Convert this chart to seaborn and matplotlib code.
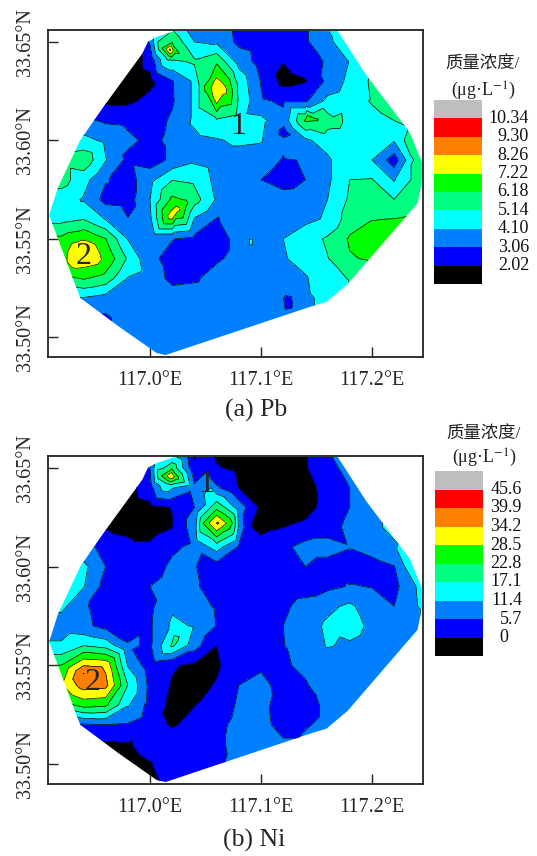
import matplotlib
matplotlib.use("Agg")
import matplotlib.pyplot as plt
import matplotlib.tri as mtri
from matplotlib.colors import ListedColormap
from matplotlib.patches import Polygon
import numpy as np
import seaborn as sns

lon_nodes = [116.90, 116.92, 116.94, 116.96, 116.98, 117.00, 117.02, 117.04, 117.06, 117.08,
             117.10, 117.12, 117.14, 117.16, 117.18, 117.20, 117.22, 117.24, 117.26]
lat_nodes = [33.66, 33.65, 33.64, 33.63, 33.62, 33.61, 33.60, 33.59, 33.58,
             33.57, 33.56, 33.55, 33.54, 33.53, 33.52, 33.51, 33.50, 33.49]

# concentration, one row per latitude
pb_grid = [
    [2.0, 2.0, 2.0, 2.0, 2.0, 3.6, 4.6, 3.0, 2.8, 2.7, 2.6, 2.2, 2.8, 4.2, 4.8, 4.8, 4.8, 4.8, 4.8],
    [1.5, 1.5, 1.5, 1.5, 1.5, 3.2, 6.0, 4.1, 3.9, 2.8, 2.5, 2.4, 2.9, 3.9, 4.7, 4.8, 5.0, 5.0, 5.0],
    [1.5, 1.5, 1.5, 1.5, 1.5, 2.3, 4.9, 5.3, 6.0, 3.7, 2.6, 2.05, 2.5, 3.2, 4.15, 4.8, 5.0, 5.0, 5.0],
    [1.5, 1.5, 1.5, 1.5, 1.5, 1.75, 3.0, 4.3, 7.5, 4.8, 3.0, 1.7, 1.95, 3.3, 4.4, 5.3, 5.6, 5.6, 5.6],
    [1.8, 1.8, 1.8, 1.8, 1.8, 2.3, 2.95, 4.3, 7.6, 5.0, 3.2, 2.9, 2.9, 4.4, 4.8, 5.2, 5.5, 5.6, 5.6],
    [2.9, 2.9, 3.3, 2.9, 2.8, 2.6, 3.2, 4.3, 5.0, 4.6, 4.4, 3.4, 6.3, 5.6, 4.9, 4.9, 5.14, 5.6, 5.6],
    [4.4, 4.4, 4.4, 3.9, 3.3, 2.8, 3.3, 3.8, 4.0, 4.3, 4.2, 3.25, 3.9, 4.6, 4.6, 4.3, 4.2, 6.3, 7.0],
    [5.6, 5.6, 5.9, 4.15, 2.8, 2.5, 3.3, 3.9, 3.6, 3.6, 3.5, 3.0, 3.1, 3.9, 5.0, 4.1, 2.5, 5.5, 7.0],
    [5.6, 5.6, 4.5, 3.15, 2.6, 3.8, 5.1, 4.9, 3.8, 3.5, 3.06, 2.6, 3.06, 3.9, 5.14, 5.2, 4.0, 5.5, 7.0],
    [4.6, 4.6, 4.0, 2.7, 2.6, 4.1, 6.4, 5.6, 4.0, 3.6, 3.5, 3.5, 3.6, 4.1, 5.3, 5.3, 5.14, 5.6, 6.0],
    [4.8, 4.8, 5.1, 4.05, 3.1, 3.9, 7.2, 4.0, 3.0, 3.5, 3.6, 3.7, 3.9, 4.2, 5.7, 6.15, 6.2, 6.4, 6.5],
    [6.4, 6.4, 7.15, 6.2, 4.05, 3.1, 3.1, 2.8, 2.6, 3.4, 3.5, 4.1, 4.6, 5.3, 6.3, 6.6, 6.6, 6.6, 6.6],
    [7.0, 7.0, 8.0, 7.0, 5.0, 3.3, 2.7, 2.5, 2.9, 3.4, 3.5, 4.0, 4.5, 5.1, 6.1, 6.3, 6.4, 6.4, 6.4],
    [5.8, 5.8, 6.3, 5.8, 4.05, 3.6, 2.8, 2.9, 3.5, 3.6, 3.6, 3.8, 4.0, 4.8, 5.2, 6.0, 6.0, 6.0, 6.0],
    [4.05, 4.05, 4.05, 3.7, 3.6, 3.6, 3.5, 3.6, 3.7, 3.6, 3.5, 3.1, 3.9, 4.4, 5.0, 5.0, 5.0, 5.0, 5.0],
    [3.0, 3.0, 3.0, 2.9, 3.5, 3.6, 3.6, 3.6, 3.6, 3.6, 3.6, 3.6, 3.9, 4.4, 5.0, 5.0, 5.0, 5.0, 5.0],
    [3.6, 3.6, 3.6, 3.6, 3.6, 3.6, 3.6, 3.6, 3.6, 3.6, 3.6, 3.6, 3.7, 4.0, 4.0, 4.0, 4.0, 4.0, 4.0],
    [3.6, 3.6, 3.6, 3.6, 3.6, 3.6, 3.6, 3.6, 3.6, 3.6, 3.6, 3.6, 3.6, 3.6, 3.6, 3.6, 3.6, 3.6, 3.6],
]
ni_grid = [
    [-3, -3, -3, -3, -3, 3, 6.5, -1.5, -2, -2, -2, -2, -1, 5.7, 8, 8.5, 8.5, 8.5, 8.5],
    [-3, -3, -3, -3, -3, 5.8, 21, 1, 0.5, -1.5, -3, -3, -0.5, 4, 7.5, 8.5, 8.5, 8.5, 8.5],
    [-3, -3, -3, -3, -2, 3.5, 12, 7, 6.5, -0.2, -3, -3, -2, 2, 5.7, 8, 8.5, 8.5, 8.5],
    [-3, -3, -3, -3, -3, -1.5, 0.2, 5.7, 21, 9, -1.5, -3, -2.5, 2.5, 5.7, 10, 13, 14, 14],
    [-0.5, -0.5, -0.5, -0.5, -1, -2.5, -0.3, 9, 32, 10.5, -1.5, -0.1, 1.5, 3.5, 7, 10, 13, 15, 15],
    [7, 7, 7, 4.5, 1, 1, 4.5, 7, 14, 5, 2, 4.5, 7.5, 7.5, 6, 8, 10.5, 18, 20],
    [13, 13, 13, 5.7, 2.5, 2.5, 7, 6, 3, 3, 3.5, 5, 5.7, 4, 3, 3.5, 5.5, 18, 20],
    [12.5, 12.5, 11.8, 3.5, 2.5, 5.7, 8.5, 6.5, 3, 2.5, 2.5, 3.5, 4, 4.5, 6, 5.5, 4, 11.5, 20],
    [13, 13, 6.5, 3, 1.5, 4.5, 10.5, 8, 5, 2, 2.5, 5, 7, 10, 12.5, 8, 5.7, 11, 18],
    [8, 8, 7, 4, 1.5, 5, 12.5, 11, 5.5, 2, 2.5, 5.7, 8.5, 12.5, 14, 10, 8, 11, 13],
    [12.5, 12.5, 17.1, 15, 6.5, 5, 18, 8, 0, 2.5, 3.5, 5.5, 8, 11.8, 10.5, 8.5, 8.5, 9, 9],
    [23, 23, 34, 33, 11, 2.5, 0.5, -1, -1, 4.5, 5, 5.2, 6.5, 8, 8.5, 8.5, 8.5, 8.5, 8.5],
    [28, 28, 37, 36, 17, 4, -0.5, -2, 0.5, 5.7, 7, 4, 5.3, 8, 9, 9, 9, 9, 9],
    [20, 20, 25, 24, 12, 3.5, -1.5, -0.2, 2, 6.5, 7.5, 3, 3.5, 7, 8.5, 8.5, 8.5, 8.5, 8.5],
    [8, 8, 5, 5.7, 5.2, 2, -0.5, 1.5, 4, 7.5, 8, 3, 5.2, 7, 8, 8, 8, 8, 8],
    [2, 2, 1, -1, -0.5, 2, 2.5, 3, 4.5, 7.5, 8, 7, 7, 8, 8, 8, 8, 8, 8],
    [-2, -2, -2, -2, -2, -0.3, 2.5, 3, 5, 7, 8, 8, 8, 8, 8, 8, 8, 8, 8],
    [-2, -2, -2, -2, -2, -2, 2, 3, 5, 8, 8, 8, 8, 8, 8, 8, 8, 8, 8],
]

# extra readings at the small peaks and pockets the grid is too coarse for
pb_extra_lon = [117.018, 117.009, 117.023, 117.016, 117.025, 117.018, 117.031, 117.121, 117.091, 117.123, 117.142,
                117.067, 117.057, 117.050, 117.074, 117.167, 117.150,
                116.9324, 116.9477, 116.9514, 116.9315]
pb_extra_lat = [33.646, 33.647, 33.645, 33.642, 33.565, 33.561, 33.567, 33.604, 33.548, 33.517, 33.612,
                33.6257, 33.627, 33.6257, 33.6257, 33.609, 33.6105,
                33.5466, 33.5466, 33.5385, 33.5365]
pb_extra_val = [8.5, 5.6, 6.4, 5.4, 7.6, 7.6, 6.5, 2.7, 4.2, 2.7, 6.5,
                7.6, 7.6, 6.3, 6.2, 5.4, 6.3,
                7.5, 7.5, 7.5, 7.5]

ni_extra_lon = [117.019, 117.009, 117.024, 117.015, 117.061, 117.060, 117.069, 117.053, 117.048, 117.074,
                117.060, 117.060, 116.940, 117.022, 117.090, 117.050]
ni_extra_lat = [33.646, 33.646, 33.645, 33.642, 33.622, 33.626, 33.622, 33.622, 33.622, 33.622,
                33.615, 33.633, 33.546, 33.563, 33.620, 33.646]
ni_extra_val = [34, 21, 25, 17.1, 35, 28.5, 28.5, 28.5, 23, 23, 22.8, 17.1, 40, 19, 0.3, 6.5]

# outline of the study area
hull_lon = [116.909, 116.917, 116.937, 116.958, 116.993, 116.998, 117.006, 117.023, 117.169, 117.195,
            117.234, 117.245, 117.245, 117.241, 117.178, 117.159, 117.147, 117.014, 117.006, 116.973,
            116.937, 116.909]
hull_lat = [33.562, 33.576, 33.600, 33.617, 33.644, 33.650, 33.6525, 33.6556, 33.6556, 33.633,
            33.604, 33.589, 33.579, 33.568, 33.527, 33.518, 33.516, 33.491, 33.492, 33.505,
            33.520, 33.562]

pb_levels = [0, 2.02, 3.06, 4.10, 5.14, 6.18, 7.22, 8.26, 9.30, 10.34, 12]
ni_levels = [-10, 0, 5.7, 11.4, 17.1, 22.8, 28.5, 34.2, 39.9, 45.6, 60]
pb_labels = ["10.34", "9.30", "8.26", "7.22", "6.18", "5.14", "4.10", "3.06", "2.02"]
ni_labels = ["45.6", "39.9", "34.2", "28.5", "22.8", "17.1", "11.4", "5.7", "0   "]

# low to high
colors = ["#000000", "#0000FF", "#0080FF", "#00FFFF", "#00FF80", "#00FF00", "#FFFF00", "#FF8000", "#FF0000", "#BEBEBE"]

lon_ticks = [117.0, 117.1, 117.2]
lon_ticklabels = ["117.0°E", "117.1°E", "117.2°E"]
lat_ticks = [33.50, 33.55, 33.60, 33.65]
lat_ticklabels = ["33.50°N", "33.55°N", "33.60°N", "33.65°N"]

W, H = 537, 856

sns.set_style("white")
plt.rcParams['font.family'] = ['Liberation Serif', 'Noto Sans CJK SC', 'DejaVu Sans']
plt.rcParams['mathtext.fontset'] = 'stix'


def box(left, top, right, bottom):
    return [left / W, 1 - bottom / H, (right - left) / W, (bottom - top) / H]


def draw_map(ax, grid, extra_lon, extra_lat, extra_val, levels):
    lon, lat = np.meshgrid(lon_nodes, lat_nodes)
    xs = np.concatenate([lon.ravel(), extra_lon])
    ys = np.concatenate([lat.ravel(), extra_lat])
    zs = np.concatenate([np.array(grid, dtype=float).ravel(), extra_val])
    tri = mtri.Triangulation(xs, ys)
    area = Polygon(np.column_stack([hull_lon, hull_lat]), transform=ax.transData, fc='none', ec='none')
    ax.add_patch(area)
    filled = ax.tricontourf(tri, zs, levels=levels, colors=colors)
    lines = ax.tricontour(tri, zs, levels=levels[1:-1], colors='black', linewidths=0.5)
    filled.set_clip_path(area)
    lines.set_clip_path(area)
    ax.set_xlim(116.908, 117.246)
    ax.set_ylim(33.490, 33.656)
    ax.set_xticks(lon_ticks, lon_ticklabels, fontsize=14.5)
    ax.set_yticks(lat_ticks, lat_ticklabels, fontsize=14.5, rotation=90, va='center')
    ax.tick_params(direction='in', length=7, width=1, color='#222222', left=True, bottom=True)
    ax.tick_params(axis='x', pad=10)
    ax.tick_params(axis='y', pad=9)
    for sp in ax.spines.values():
        sp.set_color('#222222')
        sp.set_linewidth(1.3)


def draw_key(ax, labels, label_x):
    cells = np.arange(len(colors))[::-1].reshape(-1, 1)
    sns.heatmap(cells, cmap=ListedColormap(colors), cbar=False, ax=ax, xticklabels=False, yticklabels=False)
    for i, label in enumerate(labels):
        ax.text(label_x, i + 1, label, ha='right', va='center', fontsize=13, color='#111111', clip_on=False)


fig = plt.figure(figsize=(W / 100, H / 100), dpi=100)

ax_pb = fig.add_axes(box(48, 30, 423, 357))
draw_map(ax_pb, pb_grid, pb_extra_lon, pb_extra_lat, pb_extra_val, pb_levels)
ax_pb.text(117.079, 33.607, "1", fontsize=23, ha='center', va='center')
ax_pb.text(116.940, 33.541, "2", fontsize=23, ha='center', va='center')

ax_ni = fig.add_axes(box(48, 456, 423, 784))
draw_map(ax_ni, ni_grid, ni_extra_lon, ni_extra_lat, ni_extra_val, ni_levels)
ax_ni.text(117.051, 33.6414, "1", fontsize=23, ha='center', va='center')
ax_ni.text(116.948, 33.5415, "2", fontsize=23, ha='center', va='center')

key_pb = fig.add_axes(box(434, 100, 482, 284))
draw_key(key_pb, pb_labels, 1.98)
key_ni = fig.add_axes(box(435, 471, 482.5, 656))
draw_key(key_ni, ni_labels, 1.83)

fig.text(483 / W, 1 - 65 / H, "质量浓度/", fontsize=12.5, ha='center', va='center', color='#222222')
fig.text(483 / W, 1 - 91 / H, "(μg·L$^{-1}$)", fontsize=13, ha='center', va='center', color='#222222')
fig.text(484 / W, 1 - 435 / H, "质量浓度/", fontsize=12.5, ha='center', va='center', color='#222222')
fig.text(484 / W, 1 - 458 / H, "(μg·L$^{-1}$)", fontsize=13, ha='center', va='center', color='#222222')

fig.text(256 / W, 1 - 410 / H, "(a) Pb", fontsize=18.5, ha='center', va='center')
fig.text(254 / W, 1 - 840 / H, "(b) Ni", fontsize=18.5, ha='center', va='center')

fig.savefig("out.png", dpi=100)
